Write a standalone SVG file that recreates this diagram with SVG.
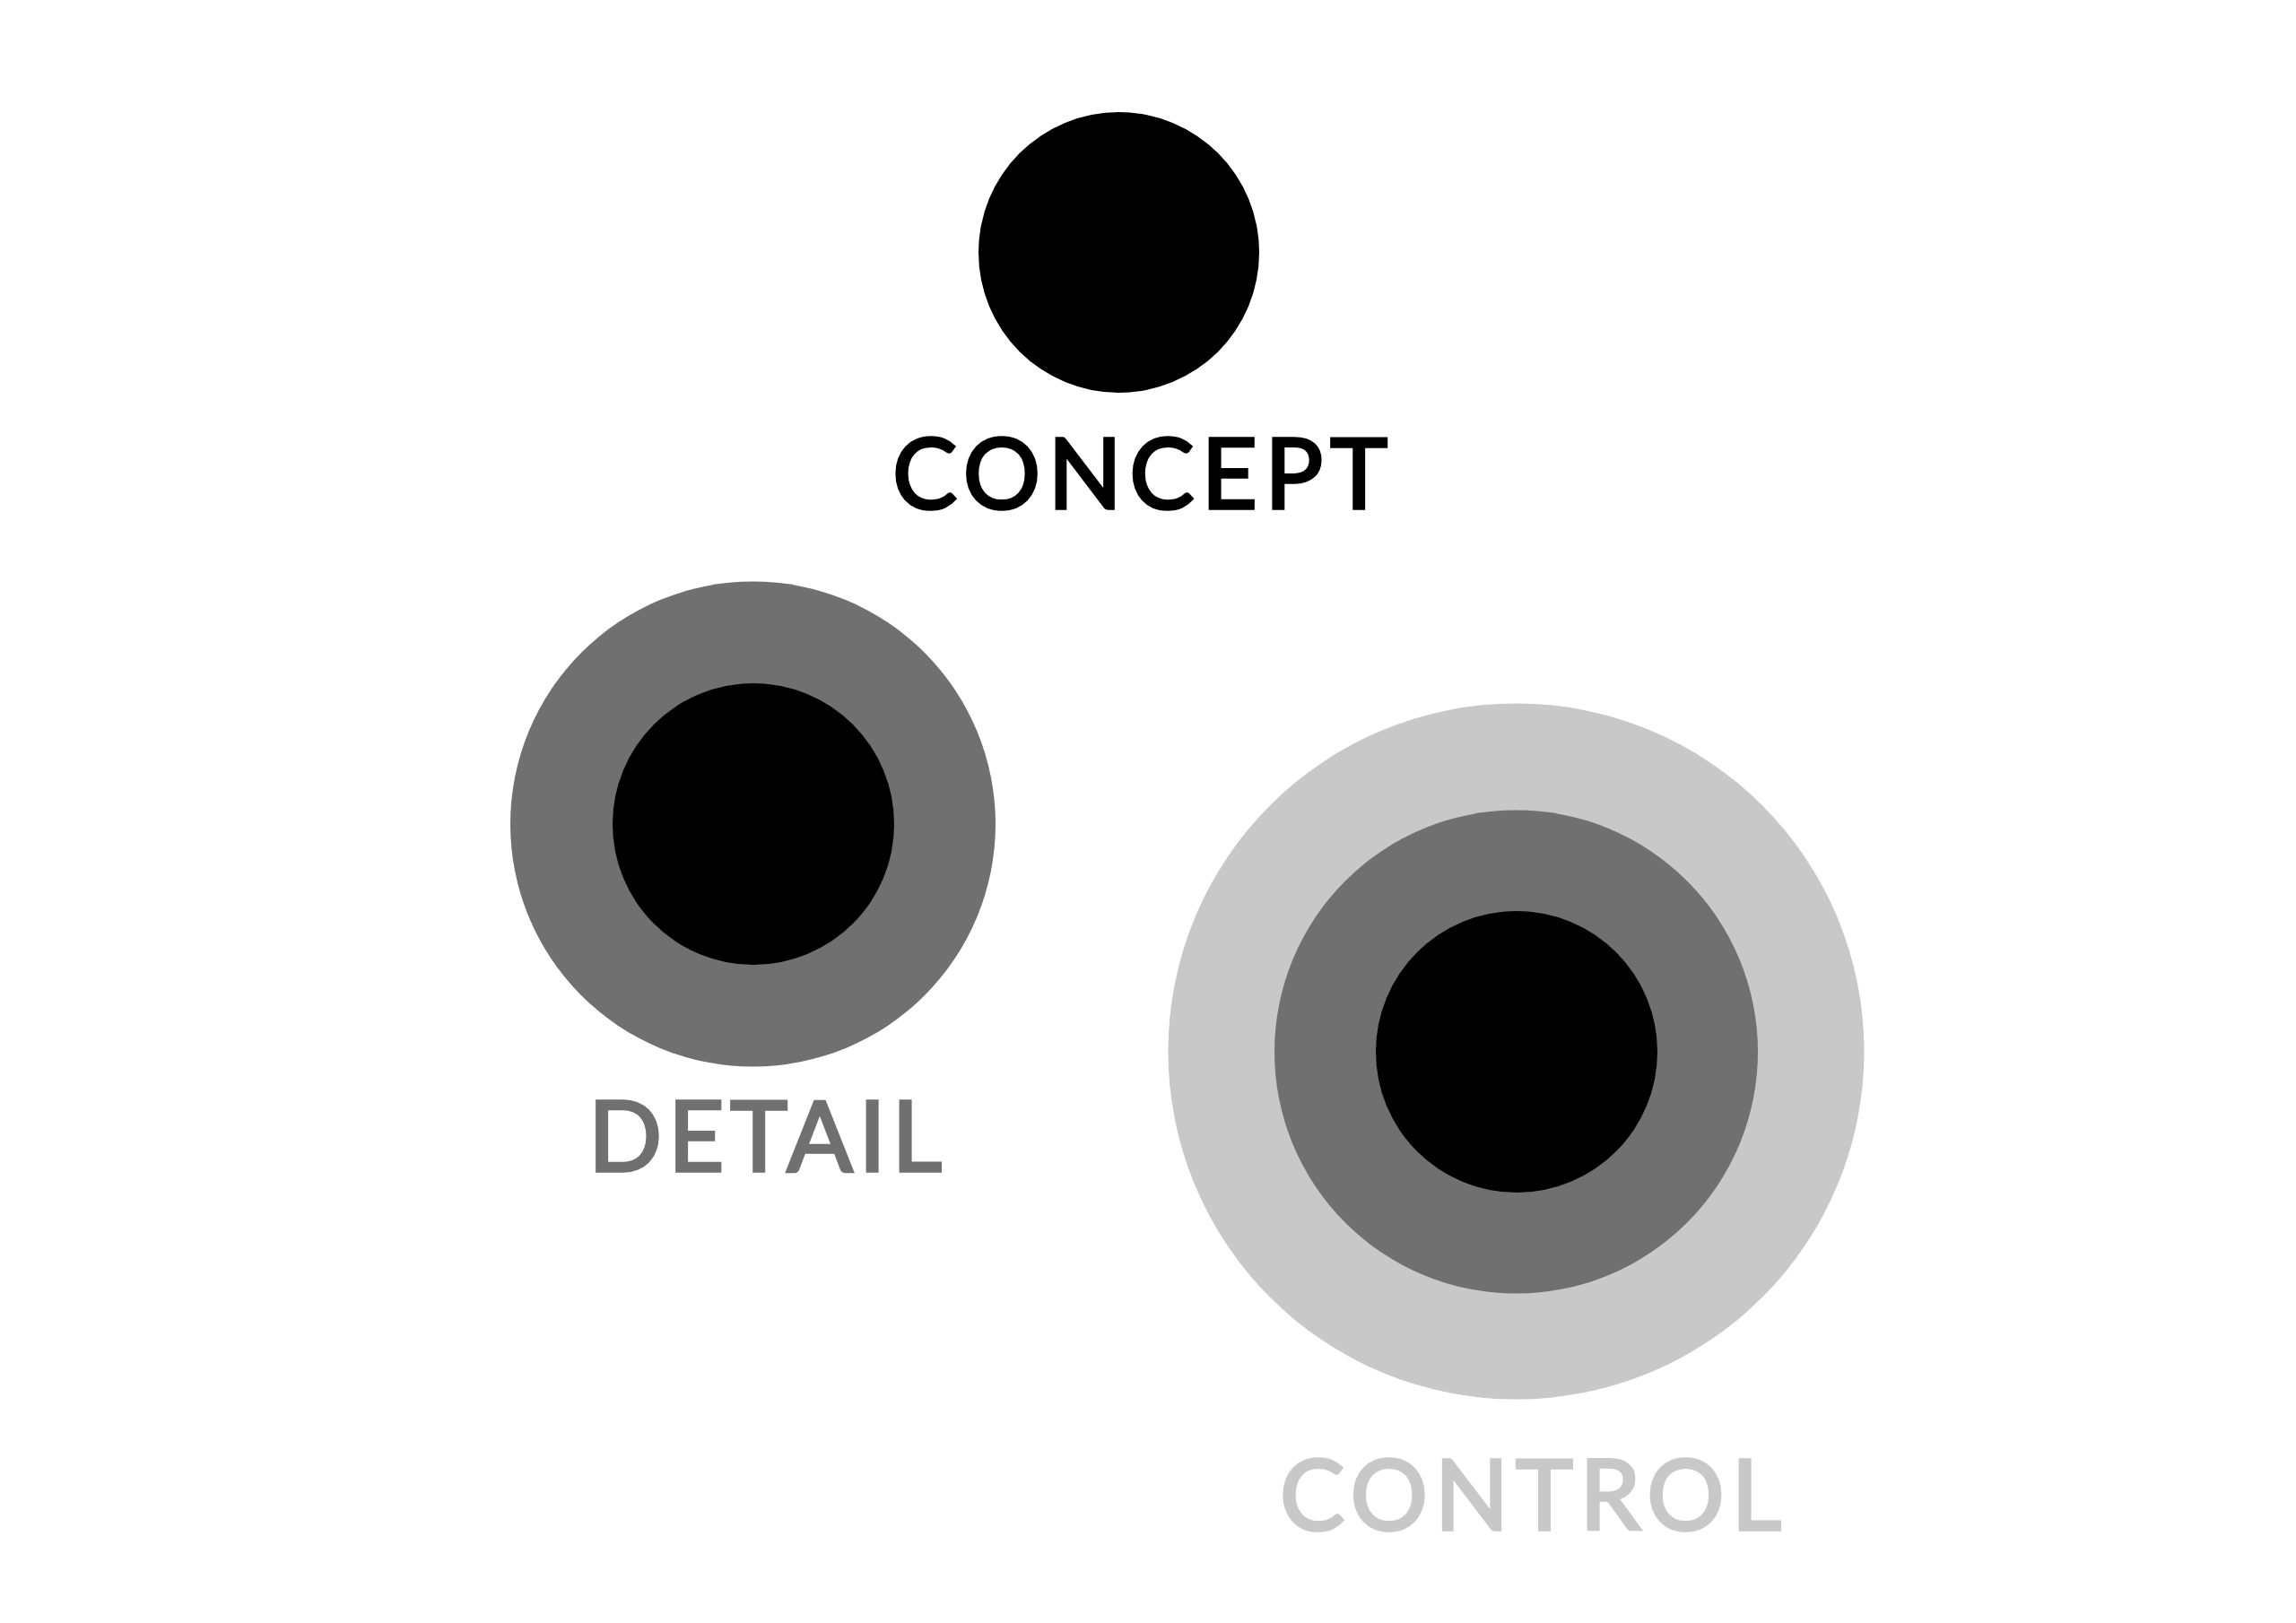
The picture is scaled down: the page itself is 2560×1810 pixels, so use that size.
<svg xmlns="http://www.w3.org/2000/svg" width="2560" height="1810" viewBox="0 0 2560 1810">
  <style>
    .lbl { font-family: "Lato", "Liberation Sans", sans-serif; font-size: 108px; font-weight: 400; stroke-width: 3.5px; stroke-linejoin: miter; }
    .black { fill: #000000; }
    .dark { fill: #707070; }
    .light { fill: #c8c8c8; }
    text.black { stroke: #000000; }
    text.dark { stroke: #707070; }
    text.light { stroke: #c8c8c8; }
  </style>
  <rect x="0" y="0" width="2560" height="1810" fill="#ffffff"/>
  <g id="concept">
    <circle class="black" cx="1247.5" cy="281.5" r="156.5"/>
    <text class="lbl black" x="995" y="567" textLength="552" lengthAdjust="spacing">CONCEPT</text>
  </g>
  <g id="detail">
    <circle class="dark" cx="839.5" cy="919" r="270.5"/>
    <circle class="black" cx="840" cy="919" r="157"/>
    <text class="lbl dark" x="656" y="1306" textLength="394" lengthAdjust="spacing">DETAIL</text>
  </g>
  <g id="control">
    <circle class="light" cx="1690.5" cy="1172.5" r="388"/>
    <circle class="dark" cx="1690.5" cy="1173" r="269.5"/>
    <circle class="black" cx="1691" cy="1173" r="157"/>
    <text class="lbl light" x="1427" y="1706" textLength="559" lengthAdjust="spacing">CONTROL</text>
  </g>
  <g id="connectors"></g>
</svg>
